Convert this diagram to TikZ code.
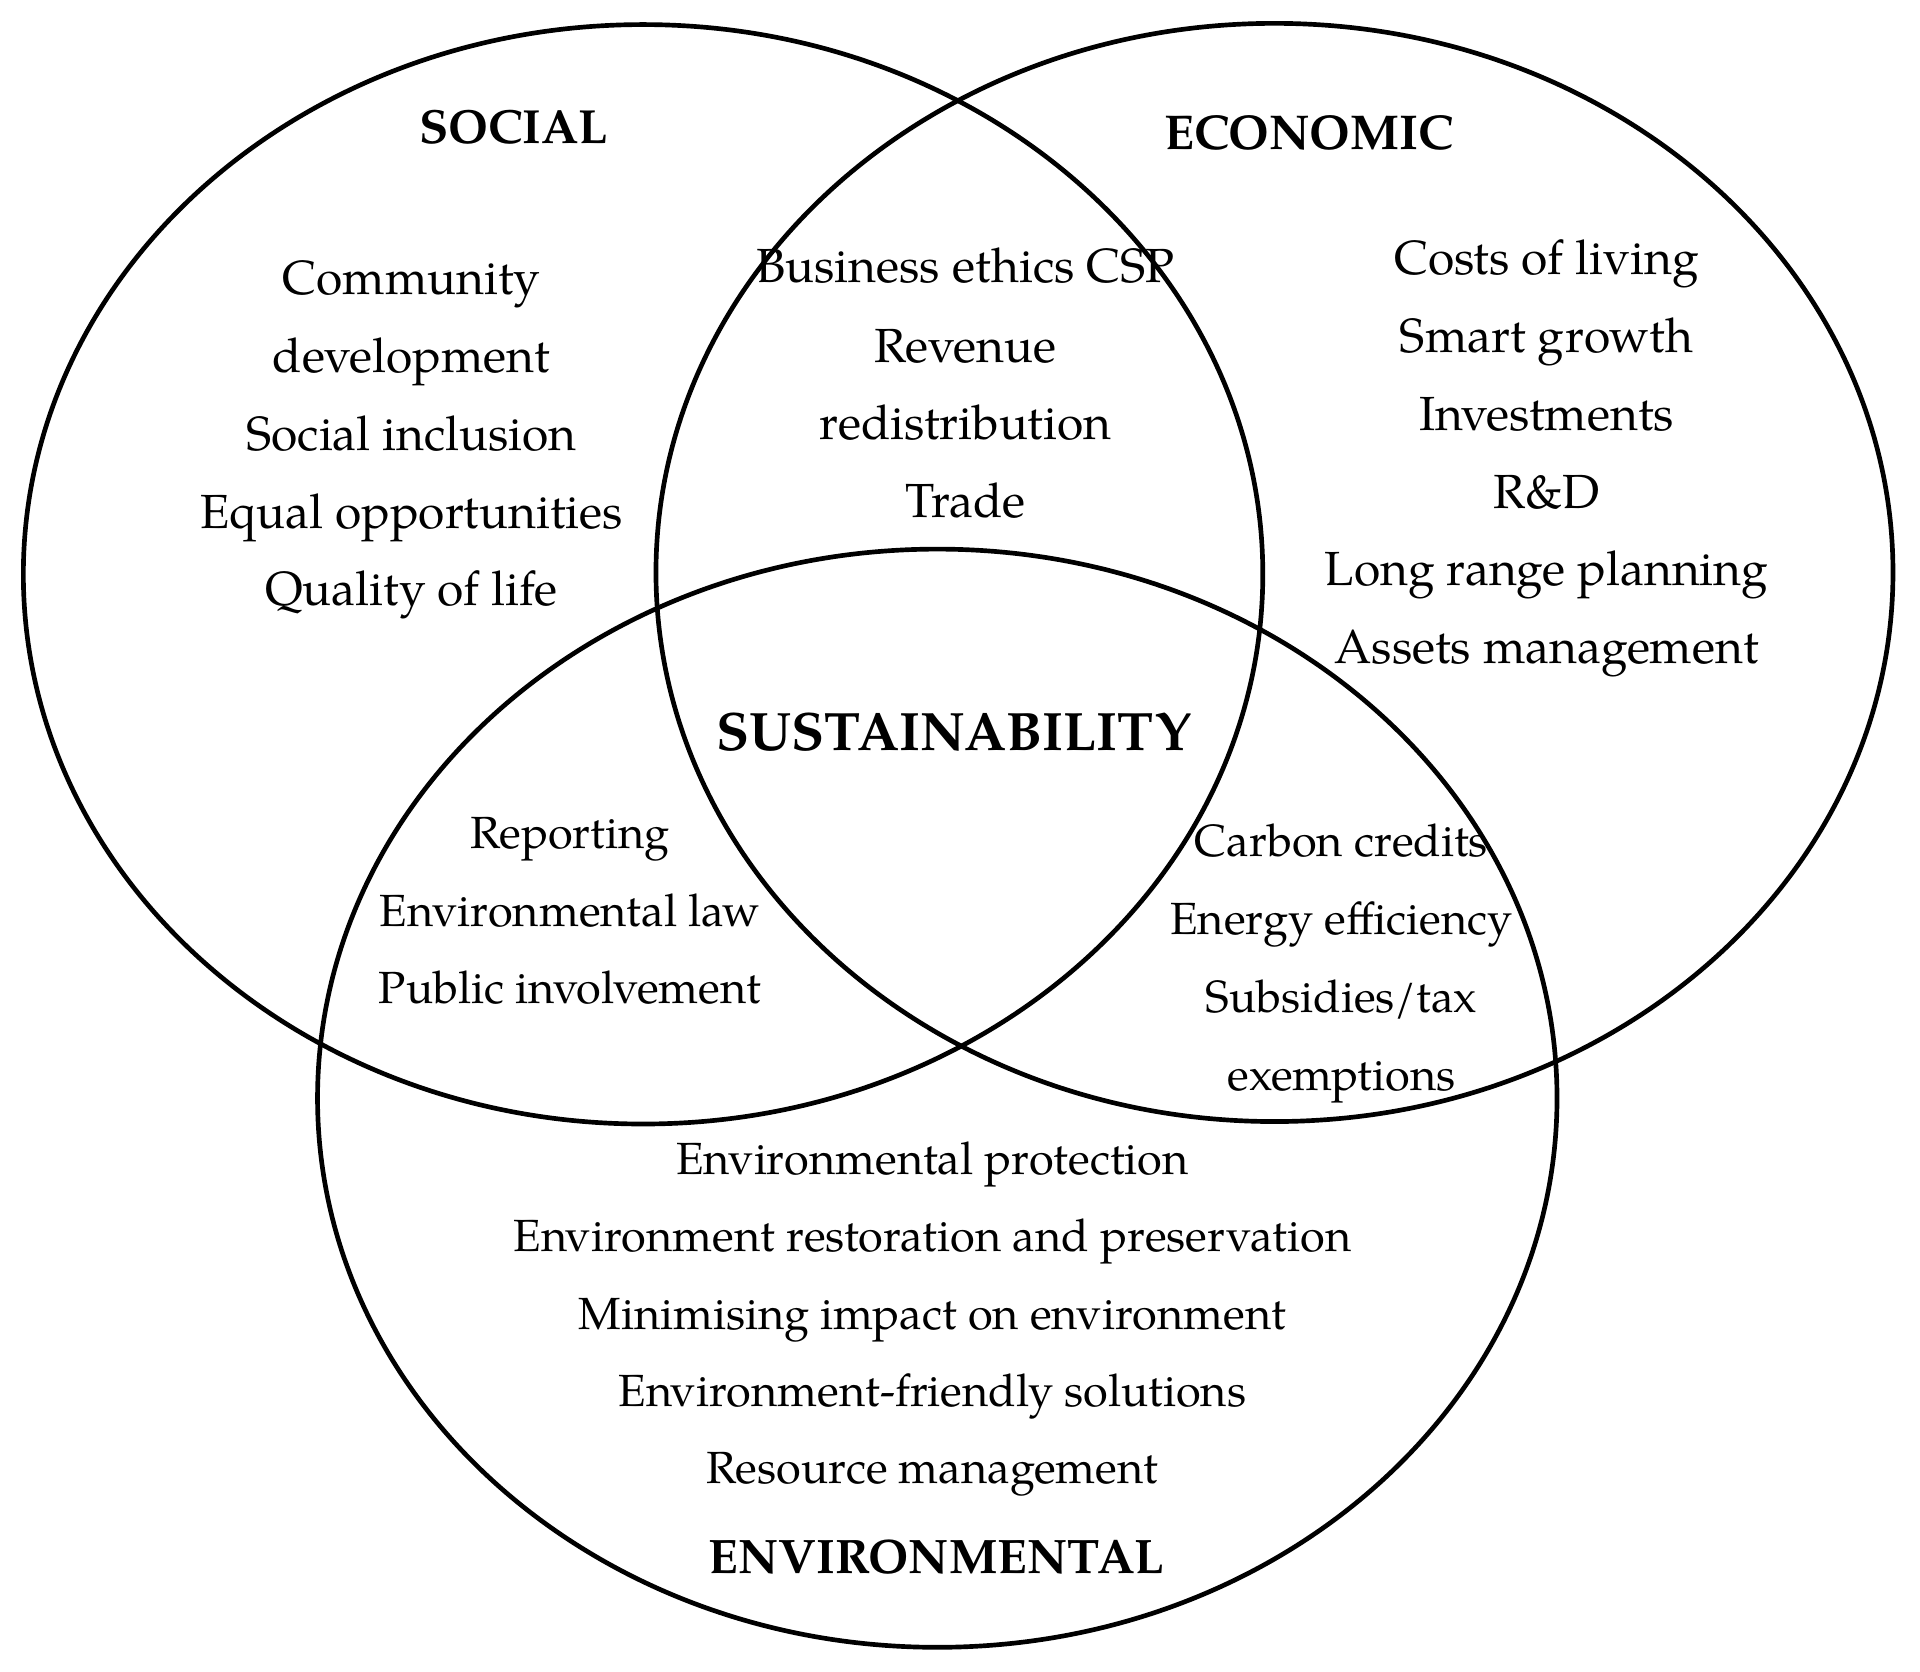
\documentclass[tikz,border=0pt]{standalone}
\usepackage{fontspec}
\setmainfont{TeX Gyre Pagella}
\begin{document}
\begin{tikzpicture}[x=1pt,y=-1pt,
  txt/.style={anchor=base, inner sep=0pt, font=\fontsize{39}{47}\selectfont},
  txts/.style={anchor=base, inner sep=0pt, font=\fontsize{36.7}{44}\selectfont},
  hd/.style={anchor=base, inner sep=0pt, font=\fontsize{39}{47}\selectfont\bfseries},
  ring/.style={draw=black, line width=3.8pt}]
\useasboundingbox (0,0) rectangle (1563,1361);
% circles
\draw[ring] (523.5,467.5) ellipse [x radius=504.5, y radius=447.5];
\draw[ring] (1037.5,466) ellipse [x radius=503.5, y radius=447];
\draw[ring] (763,894) ellipse [x radius=504.5, y radius=447];
% headings
\node[hd] (social) at (418,117) {SOCIAL};
\node[hd, font=\fontsize{39.8}{47}\selectfont\bfseries] (economic) at (1065.5,121.5) {ECONOMIC};
\node[hd, font=\fontsize{44}{52}\selectfont\bfseries] (sust) at (776.5,611) {SUSTAINABILITY};
\node[hd, font=\fontsize{39.4}{47}\selectfont\bfseries] (env) at (762.5,1281) {ENVIRONMENTAL};
% social
\node[txt] (s1) at (335,240) {Community};
\node[txt] (s2) at (335,303.5) {development};
\node[txt] (s3) at (335,367) {Social inclusion};
\node[txt] (s4) at (335,430) {Equal opportunities};
\node[txt] (s5) at (335,493) {Quality of life};
% social-economic
\node[txt] (se1) at (786,230) {Business ethics CSP};
\node[txt] (se2) at (786,295) {Revenue};
\node[txt] (se3) at (786,358) {redistribution};
\node[txt] (se4) at (786,421) {Trade};
% economic
\node[txt] (e1) at (1259,223.5) {Costs of living};
\node[txt] (e2) at (1259,287) {Smart growth};
\node[txt] (e3) at (1259,350.5) {Investments};
\node[txt] (e4) at (1259,414) {R\&D};
\node[txt] (e5) at (1259,477) {Long range planning};
\node[txt] (e6) at (1259,540) {Assets management};
% social-environmental
\node[txts] (sv1) at (464,691) {Reporting};
\node[txts] (sv2) at (464,754) {Environmental law};
\node[txts] (sv3) at (464,817) {Public involvement};
% economic-environmental
\node[txts] (ev1) at (1092,697.5) {Carbon credits};
\node[txts] (ev2) at (1092,761) {Energy efficiency};
\node[txts] (ev3) at (1092,824) {Subsidies/tax};
\node[txts] (ev4) at (1092,888) {exemptions};
% environmental
\node[txts] (v1) at (759,956) {Environmental protection};
\node[txts] (v2) at (759,1019) {Environment restoration and preservation};
\node[txts] (v3) at (759,1082) {Minimising impact on environment};
\node[txts] (v4) at (759,1145) {Environment-friendly solutions};
\node[txts] (v5) at (759,1208) {Resource management};
\end{tikzpicture}
\end{document}
